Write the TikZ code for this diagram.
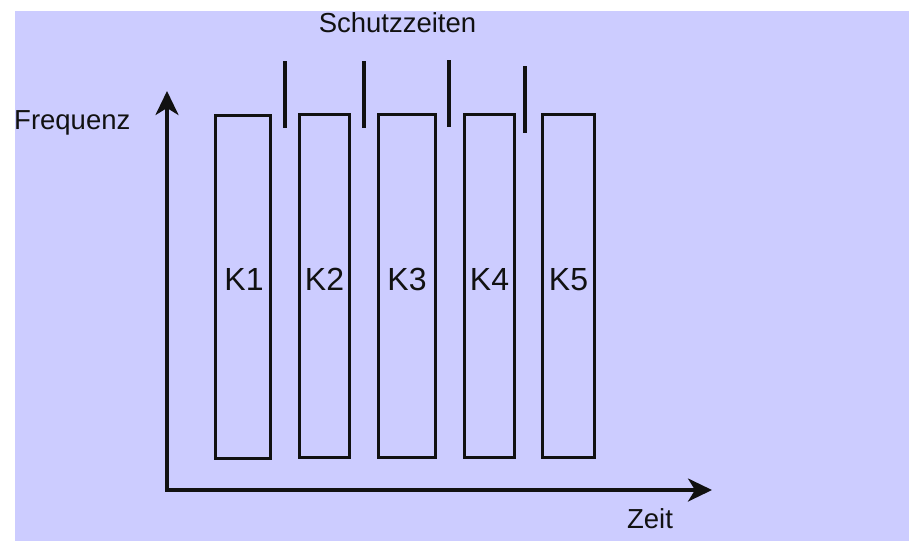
\documentclass[tikz,border=0pt]{standalone}
\usepackage{fontspec}
\setmainfont{Liberation Sans}
\usetikzlibrary{arrows.meta}
\definecolor{bgblue}{HTML}{CCCCFF}
\definecolor{ink}{HTML}{111111}
\begin{document}
\begin{tikzpicture}[x=1pt,y=-1pt,
  kbox/.style={draw=ink,line width=3pt,inner sep=0pt,rectangle},
  klabel/.style={font=\fontsize{32}{36}\selectfont,text=ink,inner sep=0pt,anchor=base},
  txt/.style={font=\fontsize{27.5}{31}\selectfont,text=ink,inner sep=0pt},
  axis/.style={draw=ink,line width=3.5pt,-{Stealth[length=24pt,width=23pt,inset=7pt]}},
  bar/.style={draw=ink,line width=4pt}]
\useasboundingbox (0,0) rectangle (909,541);
\fill[bgblue] (15,11) rectangle (909,541);
% axes
\coordinate (o) at (167,490);
\coordinate (ty) at (167,91);
\coordinate (tx) at (712,490);
\draw[axis] ([yshift=-1.75pt]o) -- (ty);
\draw[axis] ([xshift=-1.75pt]o) -- (tx);
% channel boxes
\node[kbox,minimum width=55pt,minimum height=343pt] (k1) at (243,287) {};
\node[kbox,minimum width=50pt,minimum height=343pt] (k2) at (324.5,286) {};
\node[kbox,minimum width=57pt,minimum height=343pt] (k3) at (407,286) {};
\node[kbox,minimum width=50pt,minimum height=343pt] (k4) at (489.5,286) {};
\node[kbox,minimum width=52pt,minimum height=343pt] (k5) at (568.5,286) {};
\node[klabel] (l1) at (244,290) {K1};
\node[klabel] (l2) at (324.5,290) {K2};
\node[klabel] (l3) at (407,290) {K3};
\node[klabel] (l4) at (489.5,290) {K4};
\node[klabel] (l5) at (568.5,290) {K5};
% guard intervals
\coordinate (b1t) at (285,61); \coordinate (b1b) at (285,128);
\coordinate (b2t) at (364,61); \coordinate (b2b) at (364,128);
\coordinate (b3t) at (449,60); \coordinate (b3b) at (449,127);
\coordinate (b4t) at (525,66); \coordinate (b4b) at (525,133);
\draw[bar] (b1t) -- (b1b);
\draw[bar] (b2t) -- (b2b);
\draw[bar] (b3t) -- (b3b);
\draw[bar] (b4t) -- (b4b);
% texts
\node[txt,anchor=base] (schutz) at (397.5,32) {Schutzzeiten};
\node[txt,anchor=base west] (freq) at (14,129) {Frequenz};
\node[txt,anchor=base] (zeit) at (650,528) {Zeit};
\end{tikzpicture}
\end{document}
